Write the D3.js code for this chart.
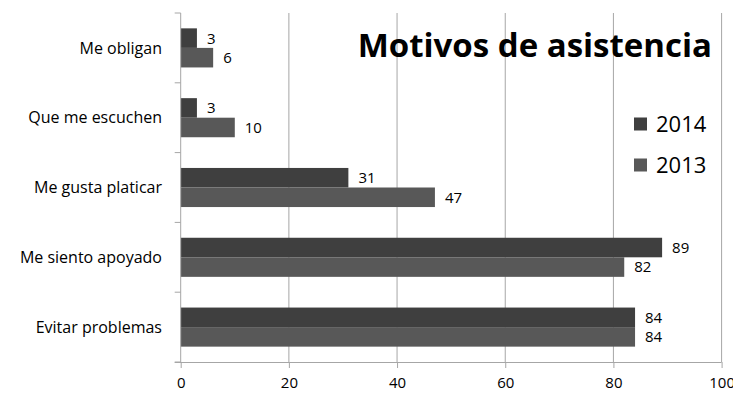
<!DOCTYPE html>
<html>
<head>
<meta charset="utf-8">
<script src="https://cdn.jsdelivr.net/npm/d3@7"></script>
<style>
  html, body { margin: 0; padding: 0; background: #fff; }
  svg { display: block; font-family: "Open Sans", Lato, sans-serif; }
</style>
</head>
<body>
<svg id="chart" width="733" height="397"></svg>
<script>
// Motivos de asistencia — respuestas por año
const categories = ["Me obligan", "Que me escuchen", "Me gusta platicar", "Me siento apoyado", "Evitar problemas"];
const seriesNames = ["2014", "2013"];
const values2014 = [3, 3, 31, 89, 84];
const values2013 = [6, 10, 47, 82, 84];
const xTicks = [0, 20, 40, 60, 80, 100];
const seriesColors = ["#3f3f3f", "#585858"];

const svg = d3.select("#chart");
const margin = { left: 180.7, right: 11.4, top: 13, bottom: 35 };
const width = 733, height = 397;

const x = d3.scaleLinear().domain([0, 100]).range([margin.left, width - margin.right]);
const y = d3.scaleBand().domain(categories).range([margin.top, height - margin.bottom]).paddingInner(0.44).paddingOuter(0.22);
const ySub = d3.scaleBand().domain(seriesNames).range([0, y.bandwidth()]);

const rows = categories.map((c, i) => ({ cat: c, vals: [values2014[i], values2013[i]] }));

// vertical gridlines
svg.append("g").selectAll("line").data(xTicks.slice(1)).join("line")
  .attr("x1", d => x(d)).attr("x2", d => x(d))
  .attr("y1", margin.top).attr("y2", height - margin.bottom)
  .attr("stroke", "#a6a6a6").attr("stroke-width", 1);

// bars
const groups = svg.append("g").selectAll("g").data(rows).join("g")
  .attr("transform", d => `translate(0,${y(d.cat)})`);

groups.selectAll("rect").data(d => d.vals.map((v, j) => ({ v, s: seriesNames[j], j }))).join("rect")
  .attr("x", x(0))
  .attr("y", d => ySub(d.s))
  .attr("width", d => x(d.v) - x(0))
  .attr("height", ySub.bandwidth())
  .attr("fill", d => seriesColors[d.j]);

groups.selectAll("text").data(d => d.vals.map((v, j) => ({ v, s: seriesNames[j] }))).join("text")
  .attr("x", d => x(d.v) + 10)
  .attr("y", d => ySub(d.s) + ySub.bandwidth() / 2)
  .attr("dy", "0.36em")
  .attr("font-size", 15)
  .attr("fill", "#000")
  .text(d => d.v);

// x axis
const xAxis = svg.append("g")
  .attr("transform", `translate(0,${height - margin.bottom})`)
  .call(d3.axisBottom(x).tickValues(xTicks).tickSize(6).tickPadding(9).tickSizeOuter(0));
xAxis.attr("font-family", null).attr("font-size", null);
xAxis.select(".domain").attr("stroke", "#a6a6a6").attr("d", `M${margin.left - 6},0.5H${x(100)}`);
xAxis.selectAll(".tick line").attr("stroke", "#a6a6a6");
xAxis.selectAll("text").attr("font-size", 15).attr("fill", "#000");

// y axis
const yEdges = d3.range(categories.length + 1).map(i => margin.top + i * (height - margin.bottom - margin.top) / categories.length);
const yAxis = svg.append("g");
yAxis.append("line")
  .attr("x1", margin.left).attr("x2", margin.left)
  .attr("y1", margin.top).attr("y2", height - margin.bottom)
  .attr("stroke", "#a6a6a6");
yAxis.selectAll(".edge").data(yEdges).join("line").attr("class", "edge")
  .attr("x1", margin.left - 6).attr("x2", margin.left)
  .attr("y1", d => d).attr("y2", d => d)
  .attr("stroke", "#a6a6a6");
yAxis.selectAll("text").data(categories).join("text")
  .attr("x", 162)
  .attr("y", d => y(d) + y.bandwidth() / 2)
  .attr("dy", "0.36em")
  .attr("text-anchor", "end")
  .attr("font-size", 16)
  .attr("fill", "#000")
  .text(d => d);

// title
svg.append("text")
  .attr("x", 712).attr("y", 45).attr("dy", "0.36em")
  .attr("text-anchor", "end")
  .attr("font-size", 33).attr("font-weight", "bold")
  .attr("fill", "#000")
  .text("Motivos de asistencia");

// legend
const legend = svg.append("g").selectAll("g").data(seriesNames).join("g")
  .attr("transform", (d, i) => `translate(634,${124 + i * 41})`);
legend.append("rect").attr("x", 0).attr("y", -6.5).attr("width", 13).attr("height", 13)
  .attr("fill", (d, i) => seriesColors[i]);
legend.append("text").attr("x", 22).attr("y", 0).attr("dy", "0.36em")
  .attr("font-size", 22).attr("fill", "#000").text(d => d);
</script>
</body>
</html>
